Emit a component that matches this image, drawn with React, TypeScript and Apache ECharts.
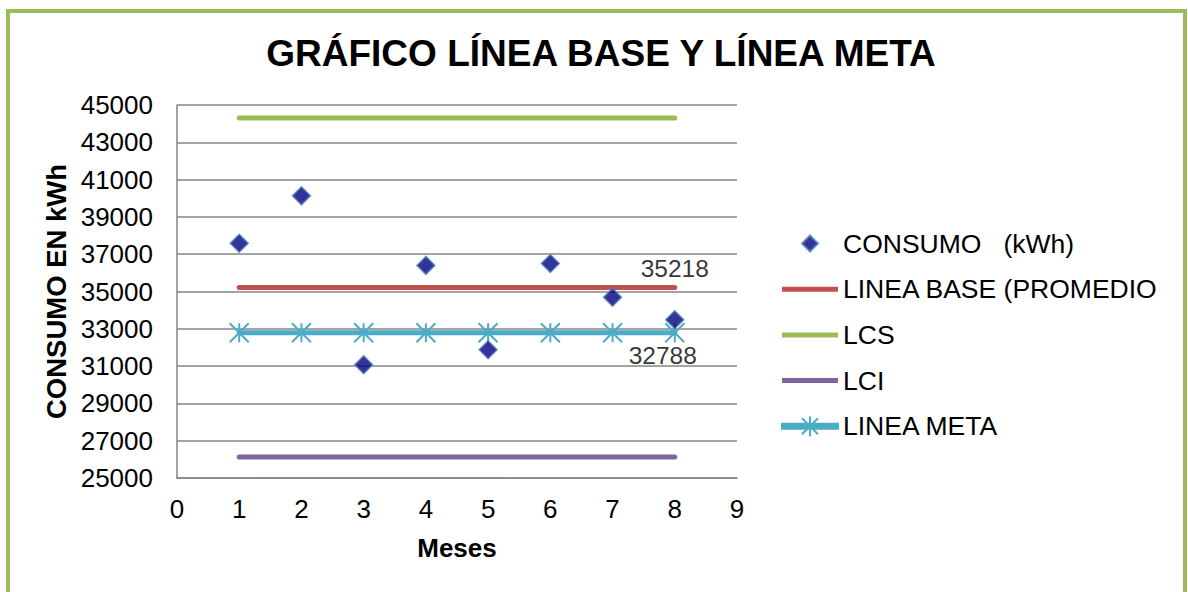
import React, { useEffect, useRef } from "react";
import * as echarts from "echarts";

const TITLE = "GRÁFICO LÍNEA BASE Y LÍNEA META";
const MONTHS = [1, 2, 3, 4, 5, 6, 7, 8];
const CONSUMO = [37590, 40130, 31070, 36400, 31880, 36500, 34690, 33490];
const LINEA_BASE = 35218;
const LCS = 44300;
const LCI = 26130;
const LINEA_META = 32788;
const Y_TICKS = { min: 25000, max: 45000, interval: 2000 };
const X_TICKS = { min: 0, max: 9, interval: 1 };
const LEGEND_NAMES = ["CONSUMO   (kWh)", "LINEA BASE (PROMEDIO", "LCS", "LCI", "LINEA META"];

const FONT = "'Liberation Sans', Arial, sans-serif";

const LINE_ICON = "path://M0,0M56,20M0,7.5L56,7.5L56,12.5L0,12.5Z";
const META_ICON = "path://M0,0M56,20M0,7.5L56,7.5L56,12.5L0,12.5Z M20,2L36,18M36,2L20,18M28,0L28,20";
const DIAMOND_ICON = "path://M0,0M56,20M28,2L36,10L28,18L20,10Z";

export default function App() {
  const ref = useRef<HTMLDivElement>(null);
  useEffect(() => {
    if (!ref.current) return;
    const chart = echarts.init(ref.current, undefined, { renderer: "svg" });
    const constSeries = (v: number) => MONTHS.map((m) => [m, v]);
    const lastIdx = MONTHS.length - 1;
    chart.setOption({
      animation: false,
      backgroundColor: "#ffffff",
      textStyle: { fontFamily: FONT },
      title: {
        text: TITLE,
        left: 596,
        textAlign: "center",
        top: 30,
        textStyle: { fontFamily: FONT, fontSize: 37, fontWeight: "bold", color: "#000" },
      },
      graphic: [
        {
          type: "rect",
          shape: { x: 8, y: 11, width: 1177, height: 620 },
          style: { fill: "none", stroke: "#9bbb59", lineWidth: 4 },
          silent: true,
        },
      ],
      legend: {
        orient: "vertical",
        left: 776,
        top: 225,
        itemWidth: 56,
        itemHeight: 20,
        itemGap: 18.7,
        symbolKeepAspect: true,
        textStyle: { fontFamily: FONT, fontSize: 26.5, color: "#000", lineHeight: 26 },
        data: [
          { name: LEGEND_NAMES[0], icon: DIAMOND_ICON },
          { name: LEGEND_NAMES[1], icon: LINE_ICON },
          { name: LEGEND_NAMES[2], icon: LINE_ICON },
          { name: LEGEND_NAMES[3], icon: LINE_ICON },
          { name: LEGEND_NAMES[4], icon: META_ICON },
        ],
      },
      grid: { left: 177, right: 451, top: 105, bottom: 114 },
      xAxis: {
        type: "value",
        min: X_TICKS.min,
        max: X_TICKS.max,
        interval: X_TICKS.interval,
        name: "Meses",
        nameLocation: "middle",
        nameGap: 57,
        nameTextStyle: { fontFamily: FONT, fontSize: 26, fontWeight: "bold", color: "#000" },
        axisLine: { lineStyle: { color: "#868686", width: 1.5 } },
        axisTick: { show: false },
        splitLine: { show: false },
        axisLabel: { fontFamily: FONT, fontSize: 26, color: "#000", margin: 18 },
      },
      yAxis: {
        type: "value",
        min: Y_TICKS.min,
        max: Y_TICKS.max,
        interval: Y_TICKS.interval,
        name: "CONSUMO EN kWh",
        nameLocation: "middle",
        nameGap: 107,
        nameTextStyle: { fontFamily: FONT, fontSize: 27.5, fontWeight: "bold", color: "#000" },
        axisLine: { show: true, lineStyle: { color: "#868686", width: 1.5 } },
        axisTick: { show: false },
        splitLine: { show: true, lineStyle: { color: "#868686", width: 1.5 } },
        axisLabel: {
          fontFamily: FONT,
          fontSize: 26,
          color: "#000",
          margin: 24,
          formatter: (v: number) => String(v),
        },
      },
      series: [
        {
          name: LEGEND_NAMES[0],
          type: "scatter",
          data: MONTHS.map((m, i) => [m, CONSUMO[i]]),
          symbol: "diamond",
          symbolSize: 18,
          itemStyle: { color: "#000080", borderColor: "#4f81bd", borderWidth: 1.5 },
          z: 5,
        },
        {
          name: LEGEND_NAMES[1],
          type: "line",
          data: constSeries(LINEA_BASE),
          symbol: "none",
          lineStyle: { color: "#c0504d", width: 5, cap: "round" },
          itemStyle: { color: "#c0504d" },
        },
        {
          name: LEGEND_NAMES[2],
          type: "line",
          data: constSeries(LCS),
          symbol: "none",
          lineStyle: { color: "#9bbb59", width: 5, cap: "round" },
          itemStyle: { color: "#9bbb59" },
        },
        {
          name: LEGEND_NAMES[3],
          type: "line",
          data: constSeries(LCI),
          symbol: "none",
          lineStyle: { color: "#8064a2", width: 5, cap: "round" },
          itemStyle: { color: "#8064a2" },
        },
        {
          name: LEGEND_NAMES[4],
          type: "line",
          data: constSeries(LINEA_META),
          symbol: "path://M0,0L10,10M10,0L0,10M5,0L5,10",
          symbolSize: 19,
          showAllSymbol: true,
          lineStyle: { color: "#4bacc6", width: 5, cap: "round" },
          itemStyle: { color: "#4bacc6", borderColor: "#4bacc6", borderWidth: 2 },
        },
        {
          name: "labels",
          type: "scatter",
          silent: true,
          symbolSize: 0,
          data: [
            {
              value: [MONTHS[lastIdx], LINEA_BASE],
              label: {
                show: true,
                position: "top",
                distance: 6,
                offset: [0, 0],
                formatter: String(LINEA_BASE),
                fontFamily: FONT,
                fontSize: 24.5,
                color: "#000",
                textBorderWidth: 0,
              },
            },
            {
              value: [MONTHS[lastIdx], LINEA_META],
              label: {
                show: true,
                position: "bottom",
                distance: 6,
                offset: [-12, 4],
                formatter: String(LINEA_META),
                fontFamily: FONT,
                fontSize: 24.5,
                color: "#000",
                textBorderWidth: 0,
              },
            },
          ],
          z: 6,
        },
      ],
    });
    return () => chart.dispose();
  }, []);
  return (
    <div
      ref={ref}
      style={{ position: "fixed", left: 0, top: 0, width: 1188, height: 592 }}
    />
  );
}
